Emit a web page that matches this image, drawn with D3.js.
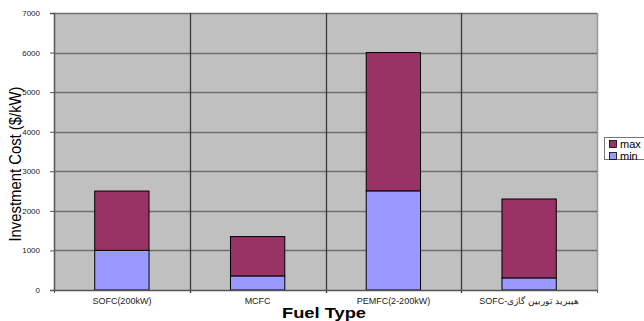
<!DOCTYPE html>
<html><head><meta charset="utf-8">
<script src="https://cdn.jsdelivr.net/npm/d3@7"></script>
<style>body{margin:0;background:#fff}svg{display:block}</style>
</head><body>
<svg id="c" width="644" height="321"></svg>
<script>
const categories = ["SOFC(200kW)", "MCFC", "PEMFC(2-200kW)", "SOFC-هیبرید توربین گازی"];
const minValues = [1000, 350, 2500, 300];
const maxValues = [2500, 1350, 6000, 2300];
const yTicks = [0, 1000, 2000, 3000, 4000, 5000, 6000, 7000];
const seriesNames = ["max", "min"];
const colors = {max: "#993366", min: "#9999FF"};

const svg = d3.select("#c");
const m = {l: 54, r: 597, t: 13, b: 290};
const font = "Arial, 'Liberation Sans', sans-serif";

const x = d3.scaleBand().domain(categories).range([m.l, m.r]).paddingInner(0.6).paddingOuter(0.3);
const xb = d3.scaleBand().domain(categories).range([m.l, m.r]).padding(0);
const y = d3.scaleLinear().domain([0, 7000]).range([m.b, m.t]);

svg.append("rect").attr("x", m.l).attr("y", m.t).attr("width", m.r - m.l).attr("height", m.b - m.t).attr("fill", "#c0c0c0");
svg.append("line").attr("x1", m.r + 0.5).attr("x2", m.r + 0.5).attr("y1", m.t).attr("y2", m.b).attr("stroke", "#999").attr("stroke-width", 1.5);

svg.append("g").selectAll("line").data(yTicks.slice(1)).join("line")
  .attr("x1", m.l).attr("x2", m.r).attr("y1", d => Math.round(y(d)) + 0.5).attr("y2", d => Math.round(y(d)) + 0.5)
  .attr("stroke", "#6f6f6f").attr("stroke-width", 1.5);

svg.append("g").selectAll("line").data(categories.slice(1)).join("line")
  .attr("x1", d => Math.round(xb(d)) + 0.5).attr("x2", d => Math.round(xb(d)) + 0.5)
  .attr("y1", m.t).attr("y2", m.b + 3).attr("stroke", "#3a3a3a").attr("stroke-width", 1.3);

const data = categories.map((c, i) => ({c, min: minValues[i], max: maxValues[i]}));
const g = svg.append("g");
g.selectAll(".mx").data(data).join("rect")
  .attr("x", d => x(d.c)).attr("width", x.bandwidth())
  .attr("y", d => y(d.max)).attr("height", d => y(d.min) - y(d.max))
  .attr("fill", colors.max).attr("stroke", "#000").attr("stroke-width", 1);
g.selectAll(".mn").data(data).join("rect")
  .attr("x", d => x(d.c)).attr("width", x.bandwidth())
  .attr("y", d => y(d.min)).attr("height", d => y(0) - y(d.min))
  .attr("fill", colors.min).attr("stroke", "#000").attr("stroke-width", 1);

const ya = svg.append("g").attr("transform", `translate(${m.l},0)`)
  .call(d3.axisLeft(y).tickValues(yTicks).tickFormat(d3.format("d")).tickSize(4).tickPadding(10));
ya.select(".domain").attr("stroke", "#555").attr("stroke-width", 1.5);
ya.selectAll(".tick line").attr("stroke", "#555");
ya.selectAll("text").attr("font-family", font).attr("font-size", 8).attr("fill", "#222");

const xa = svg.append("g").attr("transform", `translate(0,${m.b})`)
  .call(d3.axisBottom(xb).tickSize(0).tickPadding(8));
xa.select(".domain").attr("stroke", "#555").attr("stroke-width", 1.5);
xa.selectAll("text").attr("font-family", font).attr("font-size", 9).attr("fill", "#222");
svg.append("g").selectAll("line").data([m.l, m.r]).join("line")
  .attr("x1", d => d + 0.5).attr("x2", d => d + 0.5).attr("y1", m.b).attr("y2", m.b + 3).attr("stroke", "#555");

svg.append("text").attr("transform", "translate(21,164) rotate(-90)").attr("text-anchor", "middle")
  .attr("font-family", font).attr("font-size", 17).attr("fill", "#000")
  .attr("textLength", 155).attr("lengthAdjust", "spacingAndGlyphs").text("Investment Cost ($/kW)");
svg.append("text").attr("x", 324).attr("y", 318).attr("text-anchor", "middle")
  .attr("font-family", font).attr("font-size", 15).attr("font-weight", "bold").attr("fill", "#000")
  .attr("textLength", 84).attr("lengthAdjust", "spacingAndGlyphs").text("Fuel Type");

const lg = svg.append("g").attr("transform", "translate(604,137)");
lg.append("rect").attr("x", 0.5).attr("y", 0.5).attr("width", 50).attr("height", 22).attr("fill", "#fff").attr("stroke", "#777");
seriesNames.forEach((s, i) => {
  lg.append("rect").attr("x", 5.5).attr("y", 3.5 + i * 12).attr("width", 7).attr("height", 7)
    .attr("fill", colors[s]).attr("stroke", "#000").attr("stroke-width", 0.8);
  lg.append("text").attr("x", 16).attr("y", 11 + i * 12).attr("font-family", font).attr("font-size", 11).attr("fill", "#000").text(s);
});
</script>
</body></html>
